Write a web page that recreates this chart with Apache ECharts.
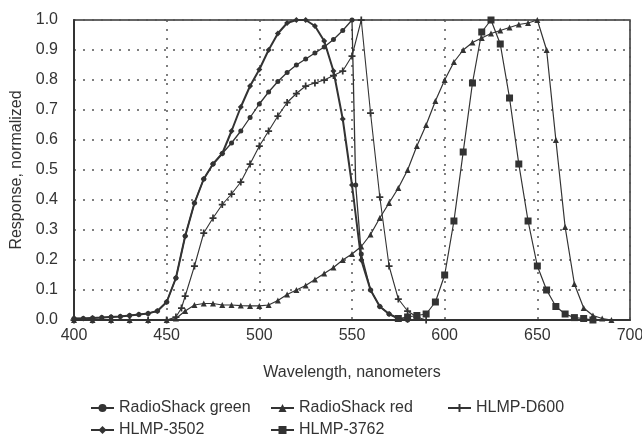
<!DOCTYPE html>
<html><head><meta charset="utf-8">
<script src="https://cdn.jsdelivr.net/npm/echarts@6/dist/echarts.min.js"></script>
<style>html,body{margin:0;padding:0;background:#fff}#c{width:642px;height:437px}</style>
</head><body><div id="c"></div>
<script>
// Wavelengths (nm) and normalized responses
const wlRSGreen = [400,405,410,415,420,425,430,435,440,445,450,455,460,465,470,475,480,485,490,495,500,505,510,515,520,525,530,535,540,545,550,552,555,560,565,570,575,580];
const rsGreen   = [0.005,0.005,0.007,0.008,0.01,0.012,0.015,0.018,0.022,0.03,0.06,0.14,0.28,0.39,0.47,0.52,0.555,0.59,0.63,0.675,0.72,0.76,0.795,0.825,0.85,0.87,0.89,0.91,0.935,0.965,1.0,0.45,0.22,0.1,0.045,0.02,0.005,0.0];

const wlRSRed = [400,410,420,430,440,450,455,460,465,470,475,480,485,490,495,500,505,510,515,520,525,530,535,540,545,550,555,560,565,570,575,580,585,590,595,600,605,610,615,620,625,630,635,640,645,650,655,660,665,670,675,680,685,690];
const rsRed   = [0.0,0.0,0.0,0.0,0.0,0.0,0.005,0.03,0.05,0.055,0.055,0.05,0.05,0.048,0.047,0.047,0.05,0.065,0.085,0.1,0.115,0.135,0.155,0.175,0.2,0.22,0.245,0.285,0.34,0.39,0.44,0.5,0.58,0.65,0.73,0.8,0.86,0.9,0.925,0.94,0.955,0.965,0.975,0.985,0.99,1.0,0.9,0.6,0.31,0.12,0.04,0.015,0.005,0.0];

const wlD600 = [400,410,420,430,440,450,455,458,460,465,470,475,480,485,490,495,500,505,510,515,520,525,530,535,540,545,550,555,560,565,570,575,580,585,590];
const d600   = [0.0,0.0,0.0,0.0,0.0,0.0,0.01,0.04,0.08,0.18,0.29,0.34,0.385,0.42,0.46,0.52,0.58,0.63,0.68,0.725,0.755,0.78,0.79,0.8,0.815,0.83,0.88,1.0,0.69,0.41,0.18,0.07,0.03,0.01,0.0];

const wl3502 = [400,405,410,415,420,425,430,435,440,445,450,455,460,465,470,475,480,485,490,495,500,505,510,515,520,525,530,535,540,545,550,555,560,565,570,575,580];
const h3502  = [0.005,0.005,0.007,0.008,0.01,0.012,0.015,0.018,0.022,0.03,0.06,0.14,0.28,0.39,0.47,0.52,0.555,0.63,0.71,0.78,0.835,0.9,0.955,0.99,1.0,1.0,0.98,0.93,0.83,0.67,0.45,0.2,0.1,0.045,0.02,0.005,0.0];

const wl3762 = [575,580,585,590,595,600,605,610,615,620,625,630,635,640,645,650,655,660,665,670,675,680];
const h3762  = [0.005,0.01,0.015,0.02,0.06,0.15,0.33,0.56,0.79,0.96,1.0,0.92,0.74,0.52,0.33,0.18,0.1,0.045,0.02,0.008,0.005,0.0];

const xTicks = [400,450,500,550,600,650,700];
const seriesNames = ['RadioShack green','RadioShack red','HLMP-D600','HLMP-3502','HLMP-3762'];

const pair = (xs, ys) => xs.map((x, i) => [x, ys[i]]);
const ink = '#333';
const plusPath = 'path://M3,0H5V3H8V5H5V8H3V5H0V3H3Z';
const font = 'Liberation Sans, Arial, sans-serif';

function mk(name, data, symbol, size, width) {
  return {
    name, type: 'line', data, symbol, symbolSize: size, showSymbol: true,
    lineStyle: { color: ink, width: width },
    itemStyle: { color: ink, borderColor: ink, borderWidth: 0 },
    emphasis: { disabled: true }, animation: false, clip: true
  };
}

function lg(name, left, top) {
  return {
    data: [name], left, top, orient: 'horizontal', padding: 0,
    itemWidth: 23, itemHeight: 10, itemGap: 0, selectedMode: false,
    textStyle: { fontSize: 16, fontFamily: font, color: ink }
  };
}

const chart = echarts.init(document.getElementById('c'), null, { renderer: 'canvas' });
chart.setOption({
  backgroundColor: '#fff',
  animation: false,
  grid: { left: 74, right: 12, top: 20, bottom: 117, show: true, borderColor: ink, borderWidth: 1.5, outerBoundsMode: 'none', containLabel: false },
  legend: [
    lg(seriesNames[0], 90, 400),
    lg(seriesNames[1], 270, 400),
    lg(seriesNames[2], 447, 400),
    lg(seriesNames[3], 90, 422),
    lg(seriesNames[4], 270, 422)
  ],
  xAxis: {
    type: 'value', min: xTicks[0], max: xTicks[xTicks.length - 1], interval: 50,
    name: 'Wavelength, nanometers', nameLocation: 'middle', nameGap: 45,
    nameTextStyle: { fontSize: 16, fontFamily: font, color: ink },
    axisLine: { show: true, lineStyle: { color: ink, width: 2 } },
    axisTick: { show: false },
    axisLabel: { fontSize: 16, fontFamily: font, color: ink, margin: 8 },
    splitLine: { show: true, lineStyle: { color: '#555', type: [2, 7], width: 1.5 } }
  },
  yAxis: {
    type: 'value', min: 0, max: 1, interval: 0.1,
    name: 'Response, normalized', nameLocation: 'middle', nameGap: 46,
    nameTextStyle: { fontSize: 16, fontFamily: font, color: ink },
    axisLine: { show: true, lineStyle: { color: ink, width: 2 } },
    axisTick: { show: false },
    axisLabel: { fontSize: 16, fontFamily: font, color: ink, margin: 16, formatter: v => v.toFixed(1) },
    splitLine: { show: true, lineStyle: { color: '#555', type: [2, 7], width: 1.5 } }
  },
  series: [
    mk(seriesNames[0], pair(wlRSGreen, rsGreen), 'circle', 5, 1.3),
    mk(seriesNames[1], pair(wlRSRed, rsRed), 'triangle', 6, 1.2),
    mk(seriesNames[2], pair(wlD600, d600), plusPath, 7, 1.1),
    mk(seriesNames[3], pair(wl3502, h3502), 'diamond', 6, 2),
    mk(seriesNames[4], pair(wl3762, h3762), 'rect', 7, 1.2)
  ]
});
</script></body></html>
